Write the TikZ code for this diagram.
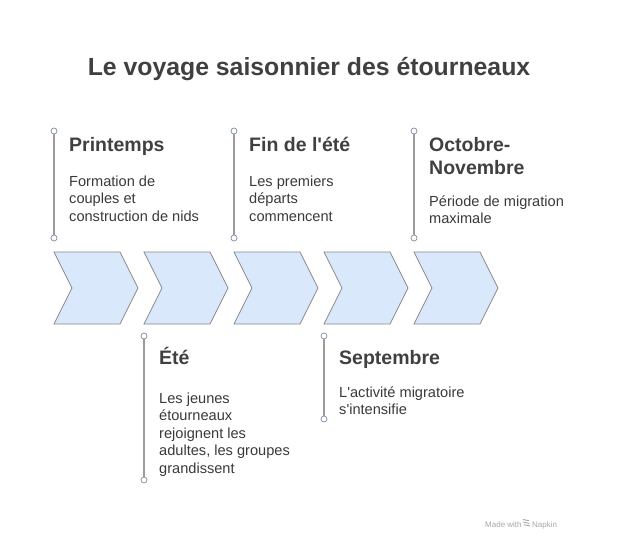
\documentclass[tikz,border=0pt]{standalone}
\usepackage{fontspec}
\setmainfont{Liberation Sans}[Ligatures=TeXOff]
\usepackage{tikz}
\usetikzlibrary{positioning,calc}
\definecolor{chevfill}{HTML}{DAE8FC}
\definecolor{chevedge}{HTML}{8A8A8A}
\definecolor{headcol}{HTML}{404040}
\definecolor{bodycol}{HTML}{3A3A3A}
\definecolor{stemcol}{HTML}{9C9C9C}
\definecolor{dotcol}{HTML}{7F8CA3}
\definecolor{markcol}{HTML}{A8A8A8}

\begin{document}
\begin{tikzpicture}[x=1pt,y=-1pt,
	chevron/.style={fill=chevfill, draw=chevedge, line width=0.8pt},
	stem/.style={draw=stemcol, line width=1.4pt},
	dot/.style={circle, draw=dotcol, fill=white, line width=0.7pt, inner sep=0pt, minimum size=6pt},
	head/.style={anchor=base west, inner sep=0pt, font=\bfseries\fontsize{19.5}{23}\selectfont, text=headcol, align=left},
	body/.style={anchor=base west, inner sep=0pt, font=\fontsize{14.6}{17.5}\selectfont, text=bodycol, align=left}]
			\useasboundingbox[fill=white] (0,0) rectangle (618,552);

			\node[font=\bfseries\fontsize{24.8}{28}\selectfont, text=headcol] (title) at (309,69) {Le voyage saisonnier des étourneaux};

			% chevrons
			\foreach \x in {54,144,234,324,414}
				\draw[chevron] (\x,252) -- ++(66,0) -- ++(18,36) -- ++(-18,36) -- ++(-66,0) -- ++(18,-36) -- cycle;

			% stems above
			\foreach \x/\n in {54/a,234/c,414/e}{
				\node[dot] (\n top) at (\x,131) {};
				\node[dot] (\n bot) at (\x,238) {};
				\draw[stem] (\n top) -- (\n bot);
			}
			% stems below
			\node[dot] (b top) at (144,336) {};
			\node[dot] (b bot) at (144,480) {};
			\draw[stem] (b top) -- (b bot);
			\node[dot] (d top) at (324,336) {};
			\node[dot] (d bot) at (324,419) {};
			\draw[stem] (d top) -- (d bot);

			% texts (base = last line)
			\node[head] (printemps) at (69,151) {Printemps};
			\node[body] (printempsTxt) at (69,221) {Formation de\\couples et\\construction de nids};

			\node[head] (ete) at (159,364) {Été};
			\node[body] (eteTxt) at (159,473) {Les jeunes\\étourneaux\\rejoignent les\\adultes, les groupes\\grandissent};

			\node[head] (finete) at (249,151) {Fin de l'été};
			\node[body] (fineteTxt) at (249,221) {Les premiers\\départs\\commencent};

			\node[head] (septembre) at (339,364) {Septembre};
			\node[body] (septembreTxt) at (339,414.5) {L'activité migratoire\\s'intensifie};

			\node[head] (octobre) at (429,174) {Octobre-\\Novembre};
			\node[body] (octobreTxt) at (429,223.5) {Période de migration\\maximale};

			% signature
			\node[anchor=base west, inner sep=0pt, font=\fontsize{8}{10}\selectfont, text=markcol] (made) at (485,527) {Made with};
			\node[anchor=base west, inner sep=0pt, font=\fontsize{8}{10}\selectfont, text=markcol] (napkin) at (532,527) {Napkin};
			\foreach \k in {0,1,2}
				\draw[markcol, line width=0.9pt] (523+\k*0.4,519.5+\k*2.6) -- ++(6,1.2);
\end{tikzpicture}
\end{document}
